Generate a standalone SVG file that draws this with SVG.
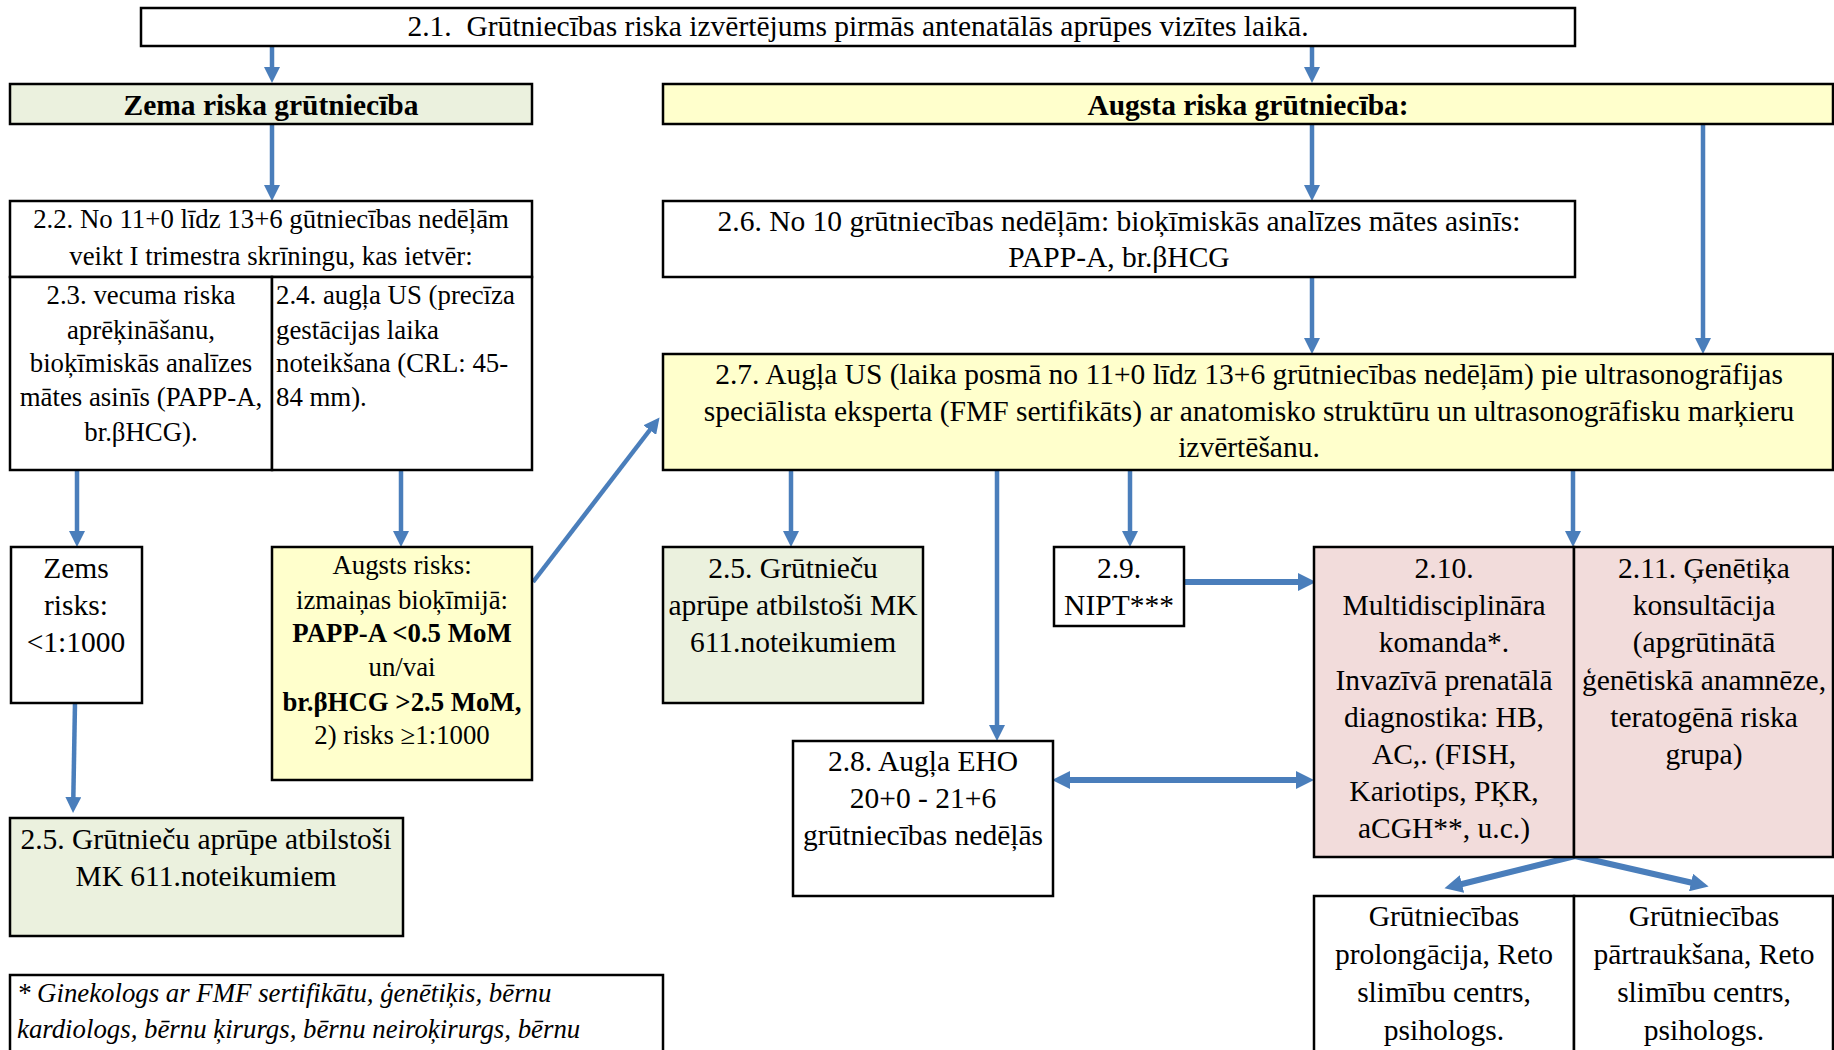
<svg xmlns="http://www.w3.org/2000/svg" width="1834" height="1050" viewBox="0 0 1834 1050">
<style>
.b{stroke:#000;stroke-width:2.5}
.w{fill:#fff}
.g{fill:#EBF1DE}
.y{fill:#FFFFCC}
.p{fill:#F2DCDB}
text{font-family:"Liberation Serif","Times New Roman",serif;font-size:29.5px;fill:#000}
.s{font-size:26.8px}
.c{text-anchor:middle}
.bd{font-weight:bold}
.it{font-style:italic}
.a{stroke:#4A7EBB;stroke-width:4.5;fill:none}
.t{stroke:#4A7EBB;stroke-width:6;fill:none}
</style>
<defs>
<marker id="ah" viewBox="0 0 16 16" refX="2" refY="8" markerWidth="16" markerHeight="16" markerUnits="userSpaceOnUse" orient="auto-start-reverse">
<path d="M0,0 L16,8 L0,16 z" fill="#4A7EBB"/>
</marker>
<marker id="ah2" viewBox="0 0 18 18" refX="2" refY="9" markerWidth="18" markerHeight="18" markerUnits="userSpaceOnUse" orient="auto-start-reverse">
<path d="M0,0 L18,9 L0,18 z" fill="#4A7EBB"/>
</marker>
</defs>
<rect width="1834" height="1050" fill="#fff"/>

<g id="connectors">
<line class="a" x1="272" y1="46" x2="272" y2="69" marker-end="url(#ah)"/>
<line class="a" x1="1312" y1="46" x2="1312" y2="69" marker-end="url(#ah)"/>
<line class="a" x1="272" y1="124" x2="272" y2="187" marker-end="url(#ah)"/>
<line class="a" x1="1312" y1="124" x2="1312" y2="187" marker-end="url(#ah)"/>
<line class="a" x1="1703" y1="124" x2="1703" y2="340" marker-end="url(#ah)"/>
<line class="a" x1="1312" y1="277" x2="1312" y2="340" marker-end="url(#ah)"/>
<line class="a" x1="77" y1="470" x2="77" y2="533" marker-end="url(#ah)"/>
<line class="a" x1="401" y1="470" x2="401" y2="533" marker-end="url(#ah)"/>
<line class="a" x1="75" y1="703" x2="73.3" y2="799" marker-end="url(#ah)"/>
<line class="a" x1="533" y1="582" x2="651" y2="428.5" marker-end="url(#ah)"/>
<line class="a" x1="791" y1="470" x2="791" y2="533" marker-end="url(#ah)"/>
<line class="a" x1="997" y1="470" x2="997" y2="727" marker-end="url(#ah)"/>
<line class="a" x1="1130" y1="470" x2="1130" y2="533" marker-end="url(#ah)"/>
<line class="a" x1="1573" y1="470" x2="1573" y2="533" marker-end="url(#ah)"/>
<line class="t" x1="1184" y1="582" x2="1300" y2="582" marker-end="url(#ah2)"/>
<line class="t" x1="1068" y1="780" x2="1298" y2="780" marker-start="url(#ah2)" marker-end="url(#ah2)"/>
<line class="t" x1="1575" y1="856" x2="1460" y2="884.5" marker-end="url(#ah2)"/>
<line class="t" x1="1575" y1="856" x2="1693" y2="883" marker-end="url(#ah2)"/>
</g>

<g id="n21">
<rect class="b w" x="141" y="8" width="1434" height="38"/>
<text class="c" x="858" y="36">2.1.&#160; Grūtniecības riska izvērtējums pirmās antenatālās aprūpes vizītes laikā.</text>
</g>
<g id="zema">
<rect class="b g" x="10" y="84" width="522" height="40"/>
<text class="c bd" x="271" y="115">Zema riska grūtniecība</text>
</g>
<g id="augsta">
<rect class="b y" x="663" y="84" width="1170" height="40"/>
<text class="c bd" x="1248" y="115">Augsta riska grūtniecība:</text>
</g>
<g id="n22">
<rect class="b w" x="10" y="201" width="522" height="76"/>
<text class="c s" x="271" y="228">2.2. No 11+0 līdz 13+6 gūtniecības nedēļām</text>
<text class="c s" x="271" y="265">veikt I trimestra skrīningu, kas ietvēr:</text>
</g>
<g id="n23">
<rect class="b w" x="10" y="277" width="262" height="193"/>
<text class="c s" x="141" y="304">2.3. vecuma riska</text>
<text class="c s" x="141" y="339">aprēķināšanu,</text>
<text class="c s" x="141" y="372">bioķīmiskās analīzes</text>
<text class="c s" x="141" y="406">mātes asinīs (PAPP-A,</text>
<text class="c s" x="141" y="441">br.βHCG).</text>
</g>
<g id="n24">
<rect class="b w" x="272" y="277" width="260" height="193"/>
<text class="s" x="276" y="304">2.4. augļa US (precīza</text>
<text class="s" x="276" y="339">gestācijas laika</text>
<text class="s" x="276" y="372">noteikšana (CRL: 45-</text>
<text class="s" x="276" y="406">84 mm).</text>
</g>
<g id="zems">
<rect class="b w" x="11" y="547" width="131" height="156"/>
<text class="c" x="76" y="578">Zems</text>
<text class="c" x="76" y="615">risks:</text>
<text class="c" x="76" y="652">&lt;1:1000</text>
</g>
<g id="augsts">
<rect class="b y" x="272" y="547" width="260" height="233"/>
<text class="c s" x="402" y="574">Augsts risks:</text>
<text class="c s" x="402" y="609">izmaiņas bioķīmijā:</text>
<text class="c s bd" x="402" y="642">PAPP-A &lt;0.5 MoM</text>
<text class="c s" x="402" y="676">un/vai</text>
<text class="c s bd" x="402" y="711">br.βHCG &gt;2.5 MoM,</text>
<text class="c s" x="402" y="744">2) risks ≥1:1000</text>
</g>
<g id="n25a">
<rect class="b g" x="10" y="818" width="393" height="118"/>
<text class="c" x="206" y="849">2.5. Grūtnieču aprūpe atbilstoši</text>
<text class="c" x="206" y="886">MK 611.noteikumiem</text>
</g>
<g id="foot">
<rect class="b w" x="10" y="975" width="653" height="90"/>
<text class="it s" x="17" y="1002">* Ginekologs ar FMF sertifikātu, ģenētiķis, bērnu</text>
<text class="it s" x="17" y="1038">kardiologs, bērnu ķirurgs, bērnu neiroķirurgs, bērnu</text>
</g>
<g id="n26">
<rect class="b w" x="663" y="201" width="912" height="76"/>
<text class="c" x="1119" y="231">2.6. No 10 grūtniecības nedēļām: bioķīmiskās analīzes mātes asinīs:</text>
<text class="c" x="1119" y="267">PAPP-A, br.βHCG</text>
</g>
<g id="n27">
<rect class="b y" x="663" y="354" width="1170" height="116"/>
<text class="c" x="1249" y="384">2.7. Augļa US (laika posmā no 11+0 līdz 13+6 grūtniecības nedēļām) pie ultrasonogrāfijas</text>
<text class="c" x="1249" y="421">speciālista eksperta (FMF sertifikāts) ar anatomisko struktūru un ultrasonogrāfisku marķieru</text>
<text class="c" x="1249" y="457">izvērtēšanu.</text>
</g>
<g id="n25b">
<rect class="b g" x="663" y="547" width="260" height="156"/>
<text class="c" x="793" y="578">2.5. Grūtnieču</text>
<text class="c" x="793" y="615">aprūpe atbilstoši MK</text>
<text class="c" x="793" y="652">611.noteikumiem</text>
</g>
<g id="n29">
<rect class="b w" x="1054" y="547" width="130" height="79"/>
<text class="c" x="1119" y="578">2.9.</text>
<text class="c" x="1119" y="615">NIPT***</text>
</g>
<g id="n28">
<rect class="b w" x="793" y="741" width="260" height="155"/>
<text class="c" x="923" y="771">2.8. Augļa EHO</text>
<text class="c" x="923" y="808">20+0 - 21+6</text>
<text class="c" x="923" y="845">grūtniecības nedēļās</text>
</g>
<g id="n210">
<rect class="b p" x="1314" y="547" width="260" height="310"/>
<text class="c" x="1444" y="578">2.10.</text>
<text class="c" x="1444" y="615">Multidisciplināra</text>
<text class="c" x="1444" y="652">komanda*.</text>
<text class="c" x="1444" y="690">Invazīvā prenatālā</text>
<text class="c" x="1444" y="727">diagnostika: HB,</text>
<text class="c" x="1444" y="764">AC,. (FISH,</text>
<text class="c" x="1444" y="801">Kariotips, PĶR,</text>
<text class="c" x="1444" y="838">aCGH**, u.c.)</text>
</g>
<g id="n211">
<rect class="b p" x="1574" y="547" width="259" height="310"/>
<text class="c" x="1704" y="578">2.11. Ģenētiķa</text>
<text class="c" x="1704" y="615">konsultācija</text>
<text class="c" x="1704" y="652">(apgrūtinātā</text>
<text class="c" x="1704" y="690">ģenētiskā anamnēze,</text>
<text class="c" x="1704" y="727">teratogēnā riska</text>
<text class="c" x="1704" y="764">grupa)</text>
</g>
<g id="outA">
<rect class="b w" x="1314" y="896" width="260" height="170"/>
<text class="c" x="1444" y="926">Grūtniecības</text>
<text class="c" x="1444" y="964">prolongācija, Reto</text>
<text class="c" x="1444" y="1002">slimību centrs,</text>
<text class="c" x="1444" y="1040">psihologs.</text>
</g>
<g id="outB">
<rect class="b w" x="1574" y="896" width="259" height="170"/>
<text class="c" x="1704" y="926">Grūtniecības</text>
<text class="c" x="1704" y="964">pārtraukšana, Reto</text>
<text class="c" x="1704" y="1002">slimību centrs,</text>
<text class="c" x="1704" y="1040">psihologs.</text>
</g>
</svg>
